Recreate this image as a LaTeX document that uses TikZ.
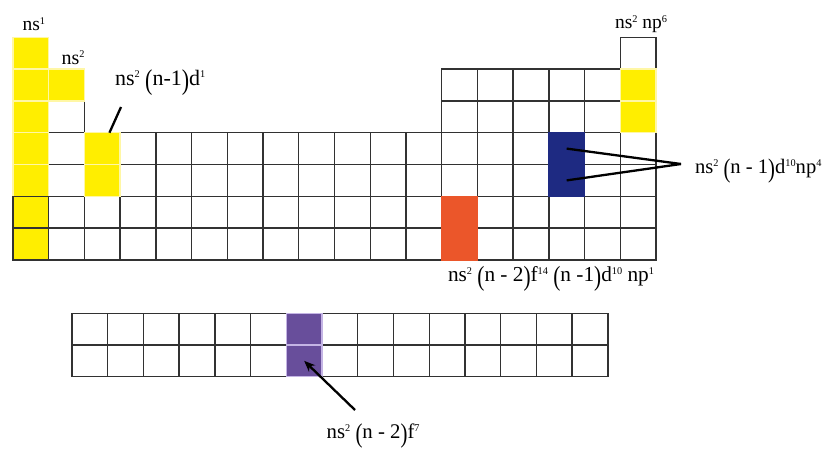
\documentclass[tikz,border=0pt]{standalone}
\usepackage{fontspec}
\setmainfont{Liberation Serif}
\usepackage{graphicx}
\usetikzlibrary{arrows.meta}
\definecolor{cyel}{RGB}{255,238,0}
\definecolor{cyelline}{RGB}{255,247,165}
\definecolor{cblue}{RGB}{30,42,130}
\definecolor{corange}{RGB}{235,86,42}
\definecolor{cpurple}{RGB}{104,78,155}
\definecolor{cpurpleline}{RGB}{196,180,228}
\definecolor{cgrid}{RGB}{50,50,50}
\newcommand\ssp[1]{\raisebox{0.33em}{\fontsize{10.3}{11}\selectfont #1}}
\newcommand\LP{\raisebox{-0.2em}{\scalebox{1}[1.3]{(}}}
\newcommand\RP{\raisebox{-0.2em}{\scalebox{1}[1.3]{)}}}
\begin{document}
\begin{tikzpicture}[x=1pt,y=-1pt,
  cell/.style={draw=cgrid, line width=1.4pt, fill=white, minimum width=35.72pt,
    minimum height=31.8pt, inner sep=0pt, outer sep=0pt},
  fcell/.style={cell, minimum height=31.7pt},
  yel/.style={fill=cyel, draw=cyelline},
  yeldark/.style={fill=cyel, draw=cgrid},
  blu/.style={fill=cblue, draw=cblue},
  ora/.style={fill=corange, draw=corange},
  pur/.style={fill=cpurple, draw=cpurpleline},
  lbl/.style={anchor=base west, inner sep=0pt, outer sep=0pt, text=black},
  conn/.style={draw=black, line width=2.3pt},
]
\useasboundingbox (0,0) rectangle (834,452);
% main table, white cells
\foreach \r/\c in {1/1,1/18}
  \node[cell] (m-\r-\c) at ({13+(\c-0.5)*35.72},{37.3+(\r-0.5)*31.8}) {};
\foreach \r in {2,3}
  \foreach \c in {1,2,13,14,15,16,17,18}
    \node[cell] (m-\r-\c) at ({13+(\c-0.5)*35.72},{37.3+(\r-0.5)*31.8}) {};
\foreach \r in {4,...,7}
  \foreach \c in {1,...,18}
    \node[cell] (m-\r-\c) at ({13+(\c-0.5)*35.72},{37.3+(\r-0.5)*31.8}) {};
% lower table
\foreach \r in {1,2}
  \foreach \c in {1,...,15}
    \node[fcell] (f-\r-\c) at ({72+(\c-0.5)*35.72},{313.3+(\r-0.5)*31.7}) {};
% coloured cells
\foreach \r/\c in {1/1,2/1,3/1,4/1,5/1,2/2,4/3,5/3,2/18,3/18}
  \node[cell, yel] (y-\r-\c) at (m-\r-\c.center) {};
\foreach \r in {4,5}
  \node[cell, blu] (b-\r-16) at (m-\r-16.center) {};
\foreach \r in {6,7}
  \node[cell, ora] (o-\r-13) at (m-\r-13.center) {};
\foreach \r in {1,2}
  \node[fcell, pur] (p-\r-7) at (f-\r-7.center) {};
\foreach \r in {6,7}
  \node[cell, yeldark] (y-\r-1) at (m-\r-1.center) {};
% labels
\node[lbl, font=\fontsize{19.5}{22}\selectfont] (ls1) at (22.5,31) {ns\ssp{1}};
\node[lbl, font=\fontsize{20}{22}\selectfont] (ls2) at (61.5,64) {ns\ssp{2}};
\node[lbl, font=\fontsize{19.5}{22}\selectfont] (lp6) at (615,29) {ns\ssp{2} np\ssp{6}};
\node[lbl, font=\fontsize{22}{24}\selectfont] (ld1) at (115,85) {ns\ssp{2} \LP n-1\RP d\ssp{1}};
\node[lbl, font=\fontsize{20.6}{24}\selectfont] (lp4) at (695,173) {ns\ssp{2} \LP n - 1\RP d\ssp{10}np\ssp{4}};
\node[lbl, font=\fontsize{21.3}{24}\selectfont] (lp1) at (448,281.7) {ns\ssp{2} \LP n - 2\RP f\ssp{14} \LP n -1\RP d\ssp{10} np\ssp{1}};
\node[lbl, font=\fontsize{20.8}{24}\selectfont] (lf7) at (326.7,438) {ns\ssp{2} \LP n - 2\RP f\ssp{7}};
% connectors
\coordinate (dstart) at (121,107);
\coordinate (apex) at (681,164);
\coordinate (fstart) at (355,410);
\draw[conn] (dstart) -- (y-4-3);
\draw[conn] (apex) -- (b-4-16.center);
\draw[conn] (apex) -- (b-5-16.center);
\draw[conn, -{Stealth[length=11pt,width=9pt]}] (fstart) -- (p-2-7.center);
\end{tikzpicture}
\end{document}
